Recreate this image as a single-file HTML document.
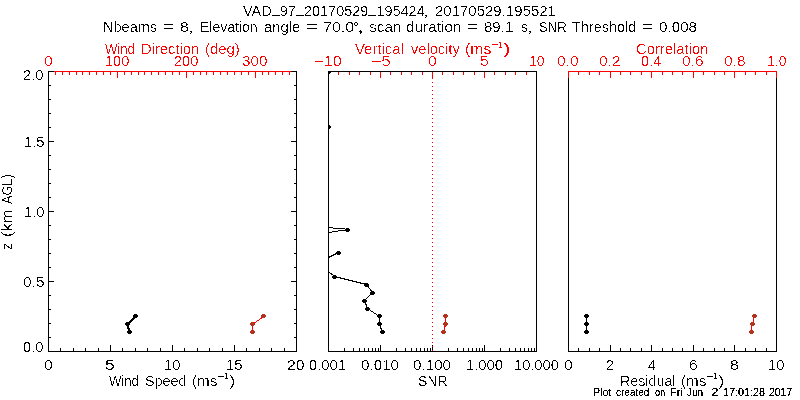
<!DOCTYPE html>
<html><head><meta charset="utf-8"><title>VAD plot</title>
<style>html,body{margin:0;padding:0;background:#fff;width:800px;height:400px;overflow:hidden}svg{display:block}</style>
</head><body><svg width="800" height="400" viewBox="0 0 800 400"><defs><clipPath id="clipP2"><rect x="328" y="71" width="209" height="281"/></clipPath></defs><rect width="800" height="400" fill="#fff"/><g shape-rendering="crispEdges"><rect x="48" y="71" width="249" height="1" fill="#000000"/><rect x="48" y="351" width="249" height="1" fill="#000000"/><rect x="48" y="71" width="1" height="281" fill="#000000"/><rect x="296" y="71" width="1" height="281" fill="#000000"/><rect x="328" y="71" width="209" height="1" fill="#000000"/><rect x="328" y="351" width="209" height="1" fill="#000000"/><rect x="328" y="71" width="1" height="281" fill="#000000"/><rect x="536" y="71" width="1" height="281" fill="#000000"/><rect x="568" y="71" width="209" height="1" fill="#000000"/><rect x="568" y="351" width="209" height="1" fill="#000000"/><rect x="568" y="71" width="1" height="281" fill="#000000"/><rect x="776" y="71" width="1" height="281" fill="#000000"/><rect x="49" y="337" width="2" height="1" fill="#000000"/><rect x="294" y="337" width="2" height="1" fill="#000000"/><rect x="49" y="323" width="2" height="1" fill="#000000"/><rect x="294" y="323" width="2" height="1" fill="#000000"/><rect x="49" y="309" width="2" height="1" fill="#000000"/><rect x="294" y="309" width="2" height="1" fill="#000000"/><rect x="49" y="295" width="2" height="1" fill="#000000"/><rect x="294" y="295" width="2" height="1" fill="#000000"/><rect x="49" y="281" width="5" height="1" fill="#000000"/><rect x="291" y="281" width="5" height="1" fill="#000000"/><rect x="49" y="267" width="2" height="1" fill="#000000"/><rect x="294" y="267" width="2" height="1" fill="#000000"/><rect x="49" y="253" width="2" height="1" fill="#000000"/><rect x="294" y="253" width="2" height="1" fill="#000000"/><rect x="49" y="239" width="2" height="1" fill="#000000"/><rect x="294" y="239" width="2" height="1" fill="#000000"/><rect x="49" y="225" width="2" height="1" fill="#000000"/><rect x="294" y="225" width="2" height="1" fill="#000000"/><rect x="49" y="211" width="5" height="1" fill="#000000"/><rect x="291" y="211" width="5" height="1" fill="#000000"/><rect x="49" y="197" width="2" height="1" fill="#000000"/><rect x="294" y="197" width="2" height="1" fill="#000000"/><rect x="49" y="183" width="2" height="1" fill="#000000"/><rect x="294" y="183" width="2" height="1" fill="#000000"/><rect x="49" y="169" width="2" height="1" fill="#000000"/><rect x="294" y="169" width="2" height="1" fill="#000000"/><rect x="49" y="155" width="2" height="1" fill="#000000"/><rect x="294" y="155" width="2" height="1" fill="#000000"/><rect x="49" y="141" width="5" height="1" fill="#000000"/><rect x="291" y="141" width="5" height="1" fill="#000000"/><rect x="49" y="127" width="2" height="1" fill="#000000"/><rect x="294" y="127" width="2" height="1" fill="#000000"/><rect x="49" y="113" width="2" height="1" fill="#000000"/><rect x="294" y="113" width="2" height="1" fill="#000000"/><rect x="49" y="99" width="2" height="1" fill="#000000"/><rect x="294" y="99" width="2" height="1" fill="#000000"/><rect x="49" y="85" width="2" height="1" fill="#000000"/><rect x="294" y="85" width="2" height="1" fill="#000000"/><rect x="60" y="348" width="1" height="3" fill="#000000"/><rect x="73" y="348" width="1" height="3" fill="#000000"/><rect x="85" y="348" width="1" height="3" fill="#000000"/><rect x="98" y="348" width="1" height="3" fill="#000000"/><rect x="110" y="345" width="1" height="6" fill="#000000"/><rect x="122" y="348" width="1" height="3" fill="#000000"/><rect x="135" y="348" width="1" height="3" fill="#000000"/><rect x="147" y="348" width="1" height="3" fill="#000000"/><rect x="160" y="348" width="1" height="3" fill="#000000"/><rect x="172" y="345" width="1" height="6" fill="#000000"/><rect x="184" y="348" width="1" height="3" fill="#000000"/><rect x="197" y="348" width="1" height="3" fill="#000000"/><rect x="209" y="348" width="1" height="3" fill="#000000"/><rect x="222" y="348" width="1" height="3" fill="#000000"/><rect x="234" y="345" width="1" height="6" fill="#000000"/><rect x="246" y="348" width="1" height="3" fill="#000000"/><rect x="259" y="348" width="1" height="3" fill="#000000"/><rect x="271" y="348" width="1" height="3" fill="#000000"/><rect x="284" y="348" width="1" height="3" fill="#000000"/><rect x="54" y="71" width="237" height="1" fill="#ff0000"/><rect x="55" y="72" width="1" height="3" fill="#ff0000"/><rect x="62" y="72" width="1" height="3" fill="#ff0000"/><rect x="69" y="72" width="1" height="3" fill="#ff0000"/><rect x="76" y="72" width="1" height="3" fill="#ff0000"/><rect x="82" y="72" width="1" height="3" fill="#ff0000"/><rect x="89" y="72" width="1" height="3" fill="#ff0000"/><rect x="96" y="72" width="1" height="3" fill="#ff0000"/><rect x="103" y="72" width="1" height="3" fill="#ff0000"/><rect x="110" y="72" width="1" height="3" fill="#ff0000"/><rect x="117" y="72" width="1" height="6" fill="#ff0000"/><rect x="124" y="72" width="1" height="3" fill="#ff0000"/><rect x="131" y="72" width="1" height="3" fill="#ff0000"/><rect x="138" y="72" width="1" height="3" fill="#ff0000"/><rect x="144" y="72" width="1" height="3" fill="#ff0000"/><rect x="151" y="72" width="1" height="3" fill="#ff0000"/><rect x="158" y="72" width="1" height="3" fill="#ff0000"/><rect x="165" y="72" width="1" height="3" fill="#ff0000"/><rect x="172" y="72" width="1" height="3" fill="#ff0000"/><rect x="179" y="72" width="1" height="3" fill="#ff0000"/><rect x="186" y="72" width="1" height="6" fill="#ff0000"/><rect x="193" y="72" width="1" height="3" fill="#ff0000"/><rect x="200" y="72" width="1" height="3" fill="#ff0000"/><rect x="206" y="72" width="1" height="3" fill="#ff0000"/><rect x="213" y="72" width="1" height="3" fill="#ff0000"/><rect x="220" y="72" width="1" height="3" fill="#ff0000"/><rect x="227" y="72" width="1" height="3" fill="#ff0000"/><rect x="234" y="72" width="1" height="3" fill="#ff0000"/><rect x="241" y="72" width="1" height="3" fill="#ff0000"/><rect x="248" y="72" width="1" height="3" fill="#ff0000"/><rect x="255" y="72" width="1" height="6" fill="#ff0000"/><rect x="262" y="72" width="1" height="3" fill="#ff0000"/><rect x="268" y="72" width="1" height="3" fill="#ff0000"/><rect x="275" y="72" width="1" height="3" fill="#ff0000"/><rect x="282" y="72" width="1" height="3" fill="#ff0000"/><rect x="289" y="72" width="1" height="3" fill="#ff0000"/><rect x="344" y="348" width="1" height="3" fill="#000000"/><rect x="353" y="348" width="1" height="3" fill="#000000"/><rect x="359" y="348" width="1" height="3" fill="#000000"/><rect x="364" y="348" width="1" height="3" fill="#000000"/><rect x="368" y="348" width="1" height="3" fill="#000000"/><rect x="372" y="348" width="1" height="3" fill="#000000"/><rect x="375" y="348" width="1" height="3" fill="#000000"/><rect x="378" y="348" width="1" height="3" fill="#000000"/><rect x="396" y="348" width="1" height="3" fill="#000000"/><rect x="405" y="348" width="1" height="3" fill="#000000"/><rect x="411" y="348" width="1" height="3" fill="#000000"/><rect x="416" y="348" width="1" height="3" fill="#000000"/><rect x="420" y="348" width="1" height="3" fill="#000000"/><rect x="424" y="348" width="1" height="3" fill="#000000"/><rect x="427" y="348" width="1" height="3" fill="#000000"/><rect x="430" y="348" width="1" height="3" fill="#000000"/><rect x="380" y="345" width="1" height="6" fill="#000000"/><rect x="448" y="348" width="1" height="3" fill="#000000"/><rect x="457" y="348" width="1" height="3" fill="#000000"/><rect x="463" y="348" width="1" height="3" fill="#000000"/><rect x="468" y="348" width="1" height="3" fill="#000000"/><rect x="472" y="348" width="1" height="3" fill="#000000"/><rect x="476" y="348" width="1" height="3" fill="#000000"/><rect x="479" y="348" width="1" height="3" fill="#000000"/><rect x="482" y="348" width="1" height="3" fill="#000000"/><rect x="432" y="345" width="1" height="6" fill="#000000"/><rect x="500" y="348" width="1" height="3" fill="#000000"/><rect x="509" y="348" width="1" height="3" fill="#000000"/><rect x="515" y="348" width="1" height="3" fill="#000000"/><rect x="520" y="348" width="1" height="3" fill="#000000"/><rect x="524" y="348" width="1" height="3" fill="#000000"/><rect x="528" y="348" width="1" height="3" fill="#000000"/><rect x="531" y="348" width="1" height="3" fill="#000000"/><rect x="534" y="348" width="1" height="3" fill="#000000"/><rect x="484" y="345" width="1" height="6" fill="#000000"/><rect x="338" y="72" width="1" height="3" fill="#ff0000"/><rect x="349" y="72" width="1" height="3" fill="#ff0000"/><rect x="359" y="72" width="1" height="3" fill="#ff0000"/><rect x="370" y="72" width="1" height="3" fill="#ff0000"/><rect x="380" y="72" width="1" height="6" fill="#ff0000"/><rect x="390" y="72" width="1" height="3" fill="#ff0000"/><rect x="401" y="72" width="1" height="3" fill="#ff0000"/><rect x="411" y="72" width="1" height="3" fill="#ff0000"/><rect x="422" y="72" width="1" height="3" fill="#ff0000"/><rect x="432" y="72" width="1" height="6" fill="#ff0000"/><rect x="442" y="72" width="1" height="3" fill="#ff0000"/><rect x="453" y="72" width="1" height="3" fill="#ff0000"/><rect x="463" y="72" width="1" height="3" fill="#ff0000"/><rect x="474" y="72" width="1" height="3" fill="#ff0000"/><rect x="484" y="72" width="1" height="6" fill="#ff0000"/><rect x="494" y="72" width="1" height="3" fill="#ff0000"/><rect x="505" y="72" width="1" height="3" fill="#ff0000"/><rect x="515" y="72" width="1" height="3" fill="#ff0000"/><rect x="526" y="72" width="1" height="3" fill="#ff0000"/><rect x="578" y="348" width="1" height="3" fill="#000000"/><rect x="589" y="348" width="1" height="3" fill="#000000"/><rect x="599" y="348" width="1" height="3" fill="#000000"/><rect x="610" y="345" width="1" height="6" fill="#000000"/><rect x="620" y="348" width="1" height="3" fill="#000000"/><rect x="630" y="348" width="1" height="3" fill="#000000"/><rect x="641" y="348" width="1" height="3" fill="#000000"/><rect x="651" y="345" width="1" height="6" fill="#000000"/><rect x="662" y="348" width="1" height="3" fill="#000000"/><rect x="672" y="348" width="1" height="3" fill="#000000"/><rect x="682" y="348" width="1" height="3" fill="#000000"/><rect x="693" y="345" width="1" height="6" fill="#000000"/><rect x="703" y="348" width="1" height="3" fill="#000000"/><rect x="714" y="348" width="1" height="3" fill="#000000"/><rect x="724" y="348" width="1" height="3" fill="#000000"/><rect x="734" y="345" width="1" height="6" fill="#000000"/><rect x="745" y="348" width="1" height="3" fill="#000000"/><rect x="755" y="348" width="1" height="3" fill="#000000"/><rect x="766" y="348" width="1" height="3" fill="#000000"/><rect x="568" y="71" width="209" height="1" fill="#ff0000"/><rect x="568" y="72" width="1" height="6" fill="#ff0000"/><rect x="578" y="72" width="1" height="3" fill="#ff0000"/><rect x="589" y="72" width="1" height="3" fill="#ff0000"/><rect x="599" y="72" width="1" height="3" fill="#ff0000"/><rect x="610" y="72" width="1" height="6" fill="#ff0000"/><rect x="620" y="72" width="1" height="3" fill="#ff0000"/><rect x="630" y="72" width="1" height="3" fill="#ff0000"/><rect x="641" y="72" width="1" height="3" fill="#ff0000"/><rect x="651" y="72" width="1" height="6" fill="#ff0000"/><rect x="662" y="72" width="1" height="3" fill="#ff0000"/><rect x="672" y="72" width="1" height="3" fill="#ff0000"/><rect x="682" y="72" width="1" height="3" fill="#ff0000"/><rect x="693" y="72" width="1" height="6" fill="#ff0000"/><rect x="703" y="72" width="1" height="3" fill="#ff0000"/><rect x="714" y="72" width="1" height="3" fill="#ff0000"/><rect x="724" y="72" width="1" height="3" fill="#ff0000"/><rect x="734" y="72" width="1" height="6" fill="#ff0000"/><rect x="745" y="72" width="1" height="3" fill="#ff0000"/><rect x="755" y="72" width="1" height="3" fill="#ff0000"/><rect x="766" y="72" width="1" height="3" fill="#ff0000"/><rect x="776" y="72" width="1" height="6" fill="#ff0000"/><rect x="432" y="74" width="1" height="1" fill="#ff0000"/><rect x="432" y="78" width="1" height="1" fill="#ff0000"/><rect x="432" y="82" width="1" height="1" fill="#ff0000"/><rect x="432" y="86" width="1" height="1" fill="#ff0000"/><rect x="432" y="90" width="1" height="1" fill="#ff0000"/><rect x="432" y="94" width="1" height="1" fill="#ff0000"/><rect x="432" y="98" width="1" height="1" fill="#ff0000"/><rect x="432" y="102" width="1" height="1" fill="#ff0000"/><rect x="432" y="106" width="1" height="1" fill="#ff0000"/><rect x="432" y="110" width="1" height="1" fill="#ff0000"/><rect x="432" y="114" width="1" height="1" fill="#ff0000"/><rect x="432" y="118" width="1" height="1" fill="#ff0000"/><rect x="432" y="122" width="1" height="1" fill="#ff0000"/><rect x="432" y="126" width="1" height="1" fill="#ff0000"/><rect x="432" y="130" width="1" height="1" fill="#ff0000"/><rect x="432" y="134" width="1" height="1" fill="#ff0000"/><rect x="432" y="138" width="1" height="1" fill="#ff0000"/><rect x="432" y="142" width="1" height="1" fill="#ff0000"/><rect x="432" y="146" width="1" height="1" fill="#ff0000"/><rect x="432" y="150" width="1" height="1" fill="#ff0000"/><rect x="432" y="154" width="1" height="1" fill="#ff0000"/><rect x="432" y="158" width="1" height="1" fill="#ff0000"/><rect x="432" y="162" width="1" height="1" fill="#ff0000"/><rect x="432" y="166" width="1" height="1" fill="#ff0000"/><rect x="432" y="170" width="1" height="1" fill="#ff0000"/><rect x="432" y="174" width="1" height="1" fill="#ff0000"/><rect x="432" y="178" width="1" height="1" fill="#ff0000"/><rect x="432" y="182" width="1" height="1" fill="#ff0000"/><rect x="432" y="186" width="1" height="1" fill="#ff0000"/><rect x="432" y="190" width="1" height="1" fill="#ff0000"/><rect x="432" y="194" width="1" height="1" fill="#ff0000"/><rect x="432" y="198" width="1" height="1" fill="#ff0000"/><rect x="432" y="202" width="1" height="1" fill="#ff0000"/><rect x="432" y="206" width="1" height="1" fill="#ff0000"/><rect x="432" y="210" width="1" height="1" fill="#ff0000"/><rect x="432" y="214" width="1" height="1" fill="#ff0000"/><rect x="432" y="218" width="1" height="1" fill="#ff0000"/><rect x="432" y="222" width="1" height="1" fill="#ff0000"/><rect x="432" y="226" width="1" height="1" fill="#ff0000"/><rect x="432" y="230" width="1" height="1" fill="#ff0000"/><rect x="432" y="234" width="1" height="1" fill="#ff0000"/><rect x="432" y="238" width="1" height="1" fill="#ff0000"/><rect x="432" y="242" width="1" height="1" fill="#ff0000"/><rect x="432" y="246" width="1" height="1" fill="#ff0000"/><rect x="432" y="250" width="1" height="1" fill="#ff0000"/><rect x="432" y="254" width="1" height="1" fill="#ff0000"/><rect x="432" y="258" width="1" height="1" fill="#ff0000"/><rect x="432" y="262" width="1" height="1" fill="#ff0000"/><rect x="432" y="266" width="1" height="1" fill="#ff0000"/><rect x="432" y="270" width="1" height="1" fill="#ff0000"/><rect x="432" y="274" width="1" height="1" fill="#ff0000"/><rect x="432" y="278" width="1" height="1" fill="#ff0000"/><rect x="432" y="282" width="1" height="1" fill="#ff0000"/><rect x="432" y="286" width="1" height="1" fill="#ff0000"/><rect x="432" y="290" width="1" height="1" fill="#ff0000"/><rect x="432" y="294" width="1" height="1" fill="#ff0000"/><rect x="432" y="298" width="1" height="1" fill="#ff0000"/><rect x="432" y="302" width="1" height="1" fill="#ff0000"/><rect x="432" y="306" width="1" height="1" fill="#ff0000"/><rect x="432" y="310" width="1" height="1" fill="#ff0000"/><rect x="432" y="314" width="1" height="1" fill="#ff0000"/><rect x="432" y="318" width="1" height="1" fill="#ff0000"/><rect x="432" y="322" width="1" height="1" fill="#ff0000"/><rect x="432" y="326" width="1" height="1" fill="#ff0000"/><rect x="432" y="330" width="1" height="1" fill="#ff0000"/><rect x="432" y="334" width="1" height="1" fill="#ff0000"/><rect x="432" y="338" width="1" height="1" fill="#ff0000"/><rect x="432" y="342" width="1" height="1" fill="#ff0000"/><rect x="432" y="346" width="1" height="1" fill="#ff0000"/><rect x="432" y="350" width="1" height="1" fill="#ff0000"/><polyline points="135.5,316.5 127.5,324.5 129.5,332.5" fill="none" stroke="#000000" stroke-width="2"/><path d="M134,314h3v1h1v2h-1v1h-3v-1h-1v-2h1z" fill="#000000"/><path d="M126,322h3v1h1v2h-1v1h-3v-1h-1v-2h1z" fill="#000000"/><path d="M128,330h3v1h1v2h-1v1h-3v-1h-1v-2h1z" fill="#000000"/><polyline points="263.5,316.5 252.5,324.5 252.5,332.5" fill="none" stroke="#ff0000" stroke-width="1"/><path d="M262,314h3v1h1v2h-1v1h-3v-1h-1v-2h1z" fill="#b4321e"/><path d="M251,322h3v1h1v2h-1v1h-3v-1h-1v-2h1z" fill="#b4321e"/><path d="M251,330h3v1h1v2h-1v1h-3v-1h-1v-2h1z" fill="#b4321e"/><g clip-path="url(#clipP2)"><rect x="329" y="227" width="4" height="1" fill="#000000"/><rect x="333" y="228" width="12" height="1" fill="#000000"/><rect x="338" y="230" width="7" height="1" fill="#000000"/><rect x="332" y="231" width="6" height="1" fill="#000000"/><rect x="329" y="232" width="3" height="1" fill="#000000"/><polyline points="328.5,257.5 338.5,252.5" fill="none" stroke="#000000" stroke-width="1"/><polyline points="328.5,271.5 334.5,276.5 366.5,284.5 372.5,292.5 364.5,300.5 367.5,308.5 379.5,316.5 379.5,324.5 382.5,332.5" fill="none" stroke="#000000" stroke-width="1"/><path d="M346,228h3v1h1v2h-1v1h-3v-1h-1v-2h1z" fill="#000000"/><path d="M337,251h3v1h1v2h-1v1h-3v-1h-1v-2h1z" fill="#000000"/><path d="M333,275h3v1h1v2h-1v1h-3v-1h-1v-2h1z" fill="#000000"/><path d="M365,283h3v1h1v2h-1v1h-3v-1h-1v-2h1z" fill="#000000"/><path d="M371,291h3v1h1v2h-1v1h-3v-1h-1v-2h1z" fill="#000000"/><path d="M363,299h3v1h1v2h-1v1h-3v-1h-1v-2h1z" fill="#000000"/><path d="M366,307h3v1h1v2h-1v1h-3v-1h-1v-2h1z" fill="#000000"/><path d="M378,314h3v1h1v2h-1v1h-3v-1h-1v-2h1z" fill="#000000"/><path d="M378,322h3v1h1v2h-1v1h-3v-1h-1v-2h1z" fill="#000000"/><path d="M381,330h3v1h1v2h-1v1h-3v-1h-1v-2h1z" fill="#000000"/><path d="M327,125h3v1h1v2h-1v1h-3v-1h-1v-2h1z" fill="#000000"/><path d="M327,70h3v1h1v2h-1v1h-3v-1h-1v-2h1z" fill="#000000"/></g><polyline points="445.5,316.5 445.5,324.5 443.5,332.5" fill="none" stroke="#ff0000" stroke-width="1"/><path d="M444,314h3v1h1v2h-1v1h-3v-1h-1v-2h1z" fill="#b4321e"/><path d="M444,322h3v1h1v2h-1v1h-3v-1h-1v-2h1z" fill="#b4321e"/><path d="M442,330h3v1h1v2h-1v1h-3v-1h-1v-2h1z" fill="#b4321e"/><polyline points="586.5,316.5 586.5,324.5 586.5,332.5" fill="none" stroke="#000000" stroke-width="1"/><path d="M585,314h3v1h1v2h-1v1h-3v-1h-1v-2h1z" fill="#000000"/><path d="M585,322h3v1h1v2h-1v1h-3v-1h-1v-2h1z" fill="#000000"/><path d="M585,330h3v1h1v2h-1v1h-3v-1h-1v-2h1z" fill="#000000"/><polyline points="754.5,316.5 752.5,323.5 751.5,326.5 751.5,332.5" fill="none" stroke="#ff0000" stroke-width="1"/><path d="M753,314h3v1h1v2h-1v1h-3v-1h-1v-2h1z" fill="#b4321e"/><path d="M751,322h3v1h1v2h-1v1h-3v-1h-1v-2h1z" fill="#b4321e"/><path d="M750,330h3v1h1v2h-1v1h-3v-1h-1v-2h1z" fill="#b4321e"/></g><filter id="bin" x="0" y="0" width="800" height="400" filterUnits="userSpaceOnUse"><feComponentTransfer><feFuncA type="discrete" tableValues="0 0 0 1 1"/></feComponentTransfer></filter><filter id="bin2" x="0" y="0" width="800" height="400" filterUnits="userSpaceOnUse"><feComponentTransfer><feFuncA type="discrete" tableValues="0 0 1 1 1"/></feComponentTransfer></filter><g filter="url(#bin)" font-family="'Liberation Sans', Arial, sans-serif"><text id="t1a" x="243.00" y="16" font-size="14" fill="#000000" textLength="181.73" lengthAdjust="spacingAndGlyphs">VAD<tspan dy="-3">_</tspan><tspan dy="3">97</tspan><tspan dy="-3">_</tspan><tspan dy="3">20170529</tspan><tspan dy="-3">_</tspan><tspan dy="3">195424</tspan></text><text id="t1b" x="435.00" y="16" font-size="14" fill="#000000" textLength="120.91" lengthAdjust="spacingAndGlyphs">20170529.195521</text><text id="t2a" x="103.00" y="32" font-size="14" fill="#000000" textLength="54.14" lengthAdjust="spacingAndGlyphs">Nbeams</text><text id="t2b" x="163.00" y="32" font-size="14" fill="#000000" textLength="11.19" lengthAdjust="spacingAndGlyphs">=</text><text id="t2c" x="180.00" y="32" font-size="14" fill="#000000" textLength="8.80" lengthAdjust="spacingAndGlyphs">8</text><text id="t2d" x="200.00" y="32" font-size="14" fill="#000000" textLength="57.59" lengthAdjust="spacingAndGlyphs">Elevation</text><text id="t2e" x="264.00" y="32" font-size="14" fill="#000000" textLength="36.27" lengthAdjust="spacingAndGlyphs">angle</text><text id="t2f" x="306.00" y="32" font-size="14" fill="#000000" textLength="12.19" lengthAdjust="spacingAndGlyphs">=</text><text id="t2g" x="323.00" y="32" font-size="14" fill="#000000" textLength="31.25" lengthAdjust="spacingAndGlyphs">70.0</text><text id="t2h" x="369.00" y="32" font-size="14" fill="#000000" textLength="32.58" lengthAdjust="spacingAndGlyphs">scan</text><text id="t2i" x="406.00" y="32" font-size="14" fill="#000000" textLength="55.59" lengthAdjust="spacingAndGlyphs">duration</text><text id="t2j" x="467.00" y="32" font-size="14" fill="#000000" textLength="11.19" lengthAdjust="spacingAndGlyphs">=</text><text id="t2k" x="484.00" y="32" font-size="14" fill="#000000" textLength="29.25" lengthAdjust="spacingAndGlyphs">89.1</text><text id="t2l" x="521.00" y="32" font-size="14" fill="#000000" textLength="7.00" lengthAdjust="spacingAndGlyphs">s</text><text id="t2m" x="539.00" y="32" font-size="14" fill="#000000" textLength="27.56" lengthAdjust="spacingAndGlyphs">SNR</text><text id="t2n" x="572.00" y="32" font-size="14" fill="#000000" textLength="64.27" lengthAdjust="spacingAndGlyphs">Threshold</text><text id="t2o" x="642.00" y="32" font-size="14" fill="#000000" textLength="11.19" lengthAdjust="spacingAndGlyphs">=</text><text id="t2p" x="659.00" y="32" font-size="14" fill="#000000" textLength="38.05" lengthAdjust="spacingAndGlyphs">0.008</text><text id="wda" x="105.00" y="54" font-size="14" fill="#ff0000" textLength="29.91" lengthAdjust="spacingAndGlyphs">Wind</text><text id="wdb" x="141.00" y="54" font-size="14" fill="#ff0000" textLength="58.25" lengthAdjust="spacingAndGlyphs">Direction</text><text id="wdc" x="205.00" y="54" font-size="14" fill="#ff0000" textLength="34.69" lengthAdjust="spacingAndGlyphs">(deg)</text><text id="wd0" x="44.00" y="66" font-size="14" fill="#ff0000" textLength="8.80" lengthAdjust="spacingAndGlyphs">0</text><text id="wd1" x="105.00" y="66" font-size="14" fill="#ff0000" textLength="24.36" lengthAdjust="spacingAndGlyphs">100</text><text id="wd2" x="174.00" y="66" font-size="14" fill="#ff0000" textLength="24.36" lengthAdjust="spacingAndGlyphs">200</text><text id="wd3" x="242.00" y="66" font-size="14" fill="#ff0000" textLength="25.36" lengthAdjust="spacingAndGlyphs">300</text><text id="y20" x="23.00" y="80" font-size="14" fill="#000000" textLength="20.47" lengthAdjust="spacingAndGlyphs">2.0</text><text id="y15" x="24.00" y="147" font-size="14" fill="#000000" textLength="20.47" lengthAdjust="spacingAndGlyphs">1.5</text><text id="y10" x="24.00" y="217" font-size="14" fill="#000000" textLength="20.47" lengthAdjust="spacingAndGlyphs">1.0</text><text id="y05" x="23.00" y="287" font-size="14" fill="#000000" textLength="21.47" lengthAdjust="spacingAndGlyphs">0.5</text><text id="y00" x="23.00" y="352" font-size="14" fill="#000000" textLength="20.47" lengthAdjust="spacingAndGlyphs">0.0</text><text id="ws0" x="44.00" y="370" font-size="14" fill="#000000" textLength="8.80" lengthAdjust="spacingAndGlyphs">0</text><text id="ws5" x="105.00" y="370" font-size="14" fill="#000000" textLength="9.80" lengthAdjust="spacingAndGlyphs">5</text><text id="ws10" x="164.00" y="370" font-size="14" fill="#000000" textLength="16.58" lengthAdjust="spacingAndGlyphs">10</text><text id="ws15" x="226.00" y="370" font-size="14" fill="#000000" textLength="16.58" lengthAdjust="spacingAndGlyphs">15</text><text id="ws20" x="287.00" y="370" font-size="14" fill="#000000" textLength="17.58" lengthAdjust="spacingAndGlyphs">20</text><text id="wsa" x="109.00" y="386" font-size="14" fill="#000000" textLength="29.91" lengthAdjust="spacingAndGlyphs">Wind</text><text id="wsb" x="145.00" y="386" font-size="14" fill="#000000" textLength="41.48" lengthAdjust="spacingAndGlyphs">Speed</text><text id="wsc" x="192.00" y="386" font-size="14" fill="#000000" textLength="25.33" lengthAdjust="spacingAndGlyphs">(ms</text><text id="wsp" x="229.00" y="386" font-size="14" fill="#000000" textLength="6.67" lengthAdjust="spacingAndGlyphs">)</text><text id="vv10m" x="314.00" y="66" font-size="14" fill="#ff0000" textLength="27.75" lengthAdjust="spacingAndGlyphs">−10</text><text id="vv5m" x="371.00" y="66" font-size="14" fill="#ff0000" textLength="19.97" lengthAdjust="spacingAndGlyphs">−5</text><text id="vv0" x="428.00" y="66" font-size="14" fill="#ff0000" textLength="8.80" lengthAdjust="spacingAndGlyphs">0</text><text id="vv5" x="480.00" y="66" font-size="14" fill="#ff0000" textLength="8.80" lengthAdjust="spacingAndGlyphs">5</text><text id="vv10" x="529.00" y="66" font-size="14" fill="#ff0000" textLength="15.58" lengthAdjust="spacingAndGlyphs">10</text><text id="vva" x="355.00" y="54" font-size="14" fill="#ff0000" textLength="48.92" lengthAdjust="spacingAndGlyphs">Vertical</text><text id="vvb" x="411.00" y="54" font-size="14" fill="#ff0000" textLength="48.69" lengthAdjust="spacingAndGlyphs">velocity</text><text id="vvc" x="465.00" y="54" font-size="14" fill="#ff0000" textLength="26.33" lengthAdjust="spacingAndGlyphs">(ms</text><text id="vvp" x="503.00" y="54" font-size="14" fill="#ff0000" textLength="7.67" lengthAdjust="spacingAndGlyphs">)</text><text id="s1" x="309.00" y="370" font-size="14" fill="#000000" textLength="37.05" lengthAdjust="spacingAndGlyphs">0.001</text><text id="s2" x="361.00" y="370" font-size="14" fill="#000000" textLength="38.05" lengthAdjust="spacingAndGlyphs">0.010</text><text id="s3" x="413.00" y="370" font-size="14" fill="#000000" textLength="38.05" lengthAdjust="spacingAndGlyphs">0.100</text><text id="s4" x="466.00" y="370" font-size="14" fill="#000000" textLength="37.05" lengthAdjust="spacingAndGlyphs">1.000</text><text id="s5" x="514.00" y="370" font-size="14" fill="#000000" textLength="44.83" lengthAdjust="spacingAndGlyphs">10.000</text><text id="snr" x="418.00" y="386" font-size="14" fill="#000000" textLength="29.56" lengthAdjust="spacingAndGlyphs">SNR</text><text id="c0" x="557.00" y="66" font-size="14" fill="#ff0000" textLength="21.47" lengthAdjust="spacingAndGlyphs">0.0</text><text id="c2" x="599.00" y="66" font-size="14" fill="#ff0000" textLength="21.47" lengthAdjust="spacingAndGlyphs">0.2</text><text id="c4" x="641.00" y="66" font-size="14" fill="#ff0000" textLength="20.47" lengthAdjust="spacingAndGlyphs">0.4</text><text id="c6" x="682.00" y="66" font-size="14" fill="#ff0000" textLength="21.47" lengthAdjust="spacingAndGlyphs">0.6</text><text id="c8" x="724.00" y="66" font-size="14" fill="#ff0000" textLength="21.47" lengthAdjust="spacingAndGlyphs">0.8</text><text id="c10" x="767.00" y="66" font-size="14" fill="#ff0000" textLength="19.47" lengthAdjust="spacingAndGlyphs">1.0</text><text id="corr" x="636.00" y="54" font-size="14" fill="#ff0000" textLength="72.48" lengthAdjust="spacingAndGlyphs">Correlation</text><text id="r0" x="564.00" y="370" font-size="14" fill="#000000" textLength="8.80" lengthAdjust="spacingAndGlyphs">0</text><text id="r2" x="606.00" y="370" font-size="14" fill="#000000" textLength="7.80" lengthAdjust="spacingAndGlyphs">2</text><text id="r4" x="648.00" y="370" font-size="14" fill="#000000" textLength="7.80" lengthAdjust="spacingAndGlyphs">4</text><text id="r6" x="689.00" y="370" font-size="14" fill="#000000" textLength="8.80" lengthAdjust="spacingAndGlyphs">6</text><text id="r8" x="730.00" y="370" font-size="14" fill="#000000" textLength="8.80" lengthAdjust="spacingAndGlyphs">8</text><text id="r10" x="768.00" y="370" font-size="14" fill="#000000" textLength="16.58" lengthAdjust="spacingAndGlyphs">10</text><text id="rla" x="620.00" y="386" font-size="14" fill="#000000" textLength="55.48" lengthAdjust="spacingAndGlyphs">Residual</text><text id="rlb" x="681.00" y="386" font-size="14" fill="#000000" textLength="25.33" lengthAdjust="spacingAndGlyphs">(ms</text><text id="rp" x="718.00" y="386" font-size="14" fill="#000000" textLength="6.67" lengthAdjust="spacingAndGlyphs">)</text><text id="za" transform="translate(12,250.00) rotate(-90)" x="0" y="0" font-size="14" fill="#000000">z</text><text id="zb" transform="translate(12,237.00) rotate(-90)" x="0" y="0" font-size="14" fill="#000000" textLength="27.33" lengthAdjust="spacingAndGlyphs">(km</text><text id="zc" transform="translate(12,204.00) rotate(-90)" x="0" y="0" font-size="14" fill="#000000" textLength="29.69" lengthAdjust="spacingAndGlyphs">AGL)</text></g><g filter="url(#bin2)" font-family="'Liberation Sans', Arial, sans-serif"><text id="t1ac" x="424.00" y="16" font-size="14" fill="#000000" textLength="3.89" lengthAdjust="spacingAndGlyphs">,</text><text id="t2cc" x="189.00" y="32" font-size="14" fill="#000000" textLength="3.89" lengthAdjust="spacingAndGlyphs">,</text><text id="t2gd" x="353.00" y="32" font-size="14" fill="#000000" textLength="5.61" lengthAdjust="spacingAndGlyphs">°</text><text id="t2gc" x="357.00" y="32" font-size="14" fill="#000000" textLength="6.89" lengthAdjust="spacingAndGlyphs">,</text><text id="t2lc" x="528.00" y="32" font-size="14" fill="#000000" textLength="3.89" lengthAdjust="spacingAndGlyphs">,</text><text id="wssm" x="217.00" y="379" font-size="9" fill="#000000" textLength="7.27" lengthAdjust="spacingAndGlyphs">−</text><text id="wss1" x="224.00" y="379" font-size="9" fill="#000000" textLength="4.02" lengthAdjust="spacingAndGlyphs">1</text><text id="vvsm" x="491.00" y="47" font-size="9" fill="#ff0000" textLength="7.27" lengthAdjust="spacingAndGlyphs">−</text><text id="vvs1" x="498.00" y="48" font-size="9" fill="#ff0000" textLength="4.02" lengthAdjust="spacingAndGlyphs">1</text><text id="rsm" x="706.00" y="379" font-size="9" fill="#000000" textLength="7.27" lengthAdjust="spacingAndGlyphs">−</text><text id="rs1" x="713.00" y="379" font-size="9" fill="#000000" textLength="4.02" lengthAdjust="spacingAndGlyphs">1</text><text id="fa" x="593.00" y="396" font-size="10" fill="#000000" textLength="18.23" lengthAdjust="spacingAndGlyphs">Plot</text><text id="fb" x="616.00" y="396" font-size="10" fill="#000000" textLength="33.36" lengthAdjust="spacingAndGlyphs">created</text><text id="fc" x="655.00" y="396" font-size="10" fill="#000000" textLength="10.12" lengthAdjust="spacingAndGlyphs">on</text><text id="fd" x="670.00" y="396" font-size="10" fill="#000000" textLength="12.67" lengthAdjust="spacingAndGlyphs">Fri</text><text id="fe" x="687.00" y="396" font-size="10" fill="#000000" textLength="16.12" lengthAdjust="spacingAndGlyphs">Jun</text><text id="ff" x="711.00" y="396" font-size="10" fill="#000000" textLength="7.56" lengthAdjust="spacingAndGlyphs">2</text><text id="fg" x="723.00" y="396" font-size="10" fill="#000000" textLength="41.94" lengthAdjust="spacingAndGlyphs">17:01:28</text><text id="fh" x="769.00" y="396" font-size="10" fill="#000000" textLength="23.25" lengthAdjust="spacingAndGlyphs">2017</text></g></svg></body></html>
